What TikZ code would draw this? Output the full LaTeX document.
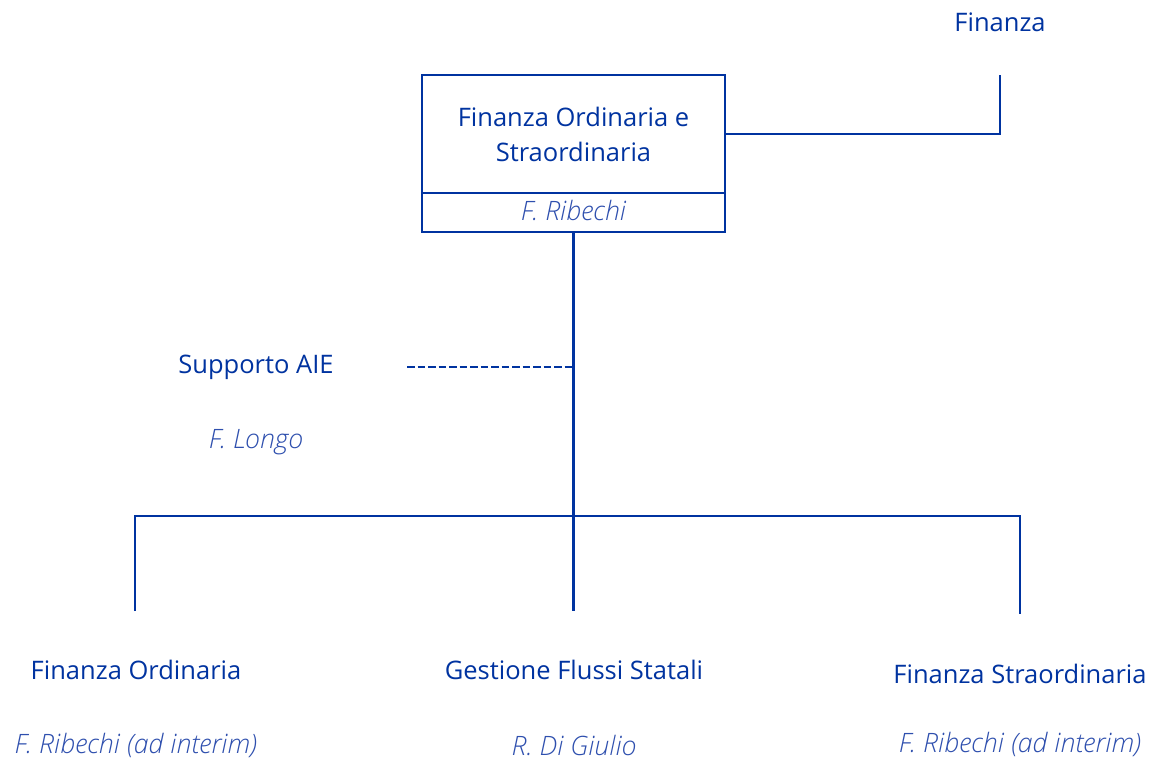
\documentclass[tikz,border=0pt]{standalone}
\usepackage{fontspec}
\setmainfont{Open Sans}
\newfontfamily\lightit{Open Sans Light Italic}
\definecolor{mainblue}{HTML}{0033A0}
\definecolor{nameblue}{HTML}{2E4FAE}
\begin{document}
\begin{tikzpicture}[x=1pt,y=-1pt,
  conn/.style={draw=mainblue,line width=2.6pt},
  unit/.style={text=mainblue,font=\fontsize{25.5}{35}\selectfont,align=center,inner sep=0pt},
  person/.style={text=nameblue,font=\fontsize{26.7}{35}\lightit,align=center,inner sep=0pt}]
\useasboundingbox (0,0) rectangle (1151,761);
\fill[white] (0,0) rectangle (1151,761);
% top box
\node[draw=mainblue,line width=2.6pt,minimum width=303pt,minimum height=157pt,inner sep=0pt] (box) at (573.5,153.5) {};
\coordinate (divl) at (422,193);
\coordinate (divr) at (725,193);
\draw[conn] (divl) -- (divr);
\coordinate (boxe) at (725,134);
\node[unit] (boxt) at (573.5,134) {Finanza Ordinaria e\\Straordinaria};
\node[person] (boxp) at (573.5,210) {F. Ribechi};
% Finanza
\node[unit] (fin) at (1000,22) {Finanza};
\coordinate (finb) at (1000,75);
\draw[conn] (boxe) -| (finb);
% trunk
\coordinate (hub) at (573.5,516);
\coordinate (aiej) at (573.5,367);
\draw[conn] (box.south) -- (hub);
% supporto
\node[unit] (aie) at (256,367) {Supporto AIE};
\node[person] (aiep) at (256,442) {F. Longo};
\coordinate (aiedash) at (407,367);
\draw[draw=mainblue,line width=2pt,dash pattern=on 7.5pt off 3pt] (aiedash) -- (aiej);
% bottom bus
\coordinate (l) at (135,516);
\coordinate (r) at (1020,516);
\coordinate (lb) at (135,611);
\coordinate (mb) at (573.5,611);
\coordinate (rb) at (1020,614);
\draw[conn] (lb) -- (l) -- (r) -- (rb);
\draw[conn] (hub) -- (mb);
% bottom units
\node[unit] (fo) at (136,670) {Finanza Ordinaria};
\node[person] (fop) at (136,745) {F. Ribechi (ad interim)};
\node[unit] (gf) at (574,670) {Gestione Flussi Statali};
\node[person] (gfp) at (574,745) {R. Di Giulio};
\node[unit] (fs) at (1020,674) {Finanza Straordinaria};
\node[person] (fsp) at (1020,744) {F. Ribechi (ad interim)};
\end{tikzpicture}
\end{document}
